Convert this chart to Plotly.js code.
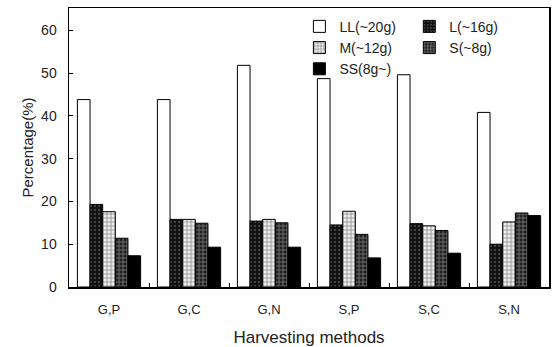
<!DOCTYPE html>
<html><head><meta charset="utf-8">
<script src="https://cdn.plot.ly/plotly-3.0.1.min.js"></script>
<style>body{margin:0;background:#fff}#chart{width:553px;height:347px}</style>
</head><body><div id="chart"></div>
<script>
const categories = ["G,P", "G,C", "G,N", "S,P", "S,C", "S,N"];
const seriesNames = ["LL(~20g)", "L(~16g)", "M(~12g)", "S(~8g)", "SS(8g~)"];
const LL = [43.8, 43.8, 51.8, 48.7, 49.6, 40.8];
const L  = [19.3, 15.8, 15.4, 14.5, 14.8, 10.0];
const M  = [17.6, 15.8, 15.8, 17.7, 14.3, 15.2];
const S  = [11.4, 14.9, 15.0, 12.3, 13.2, 17.3];
const SS = [7.3, 9.3, 9.3, 6.8, 7.9, 16.7];
const yTicks = [0, 10, 20, 30, 40, 50, 60];

const font = "Liberation Sans, Arial, sans-serif";
const styles = [
  {color: "#ffffff", pattern: {shape: ""}, legend: "legend"},
  {color: "#111111", pattern: {shape: ".", fgcolor: "#555555", bgcolor: "#111111", size: 4, solidity: 0.2}, legend: "legend2"},
  {color: "#dddddd", pattern: {shape: "+", fgcolor: "#777777", bgcolor: "#eeeeee", size: 4, solidity: 0.3}, legend: "legend"},
  {color: "#333333", pattern: {shape: "+", fgcolor: "#888888", bgcolor: "#222222", size: 4, solidity: 0.3}, legend: "legend2"},
  {color: "#000000", pattern: {shape: ""}, legend: "legend"}
];
const values = [LL, L, M, S, SS];
const traces = values.map((v, i) => ({
  type: "bar", x: categories, y: v, name: seriesNames[i],
  legend: styles[i].legend,
  marker: {color: styles[i].color, pattern: styles[i].pattern, line: {color: "#000", width: 1}}
}));

const layout = {
  width: 553, height: 347,
  margin: {l: 69, r: 4, t: 8, b: 60},
  paper_bgcolor: "#fff", plot_bgcolor: "#fff",
  barmode: "group", bargap: 0.21, bargroupgap: 0,
  font: {family: font, color: "#222", size: 14},
  showlegend: true,
  legend: {x: 0.48, y: 0.99, xanchor: "left", yanchor: "top", bgcolor: "rgba(0,0,0,0)",
           font: {size: 14, family: font}, itemwidth: 30, tracegroupgap: 0, traceorder: "normal"},
  legend2: {x: 0.709, y: 0.99, xanchor: "left", yanchor: "top", bgcolor: "rgba(0,0,0,0)",
           font: {size: 14, family: font}, itemwidth: 30, tracegroupgap: 0, traceorder: "normal"},
  xaxis: {
    type: "category", showline: true, linecolor: "#000", linewidth: 1.5, mirror: true,
    ticks: "inside", tickson: "boundaries", ticklen: 4, tickcolor: "#000",
    tickfont: {size: 13, family: font}, ticklabelstandoff: 10,
    title: {text: "Harvesting methods", font: {size: 17, family: font}, standoff: 18},
    showgrid: false, zeroline: false
  },
  yaxis: {
    range: [0, 65.2], tickvals: yTicks, ticktext: yTicks.map(String),
    showline: true, linecolor: "#000", linewidth: 1.5, mirror: true,
    ticks: "inside", ticklen: 4, tickcolor: "#000",
    tickfont: {size: 14, family: font}, ticklabelstandoff: 8,
    title: {text: "Percentage(%)", font: {size: 15, family: font}, standoff: 4},
    showgrid: false, zeroline: false
  }
};
Plotly.newPlot("chart", traces, layout, {displayModeBar: false, staticPlot: true});
</script></body></html>
